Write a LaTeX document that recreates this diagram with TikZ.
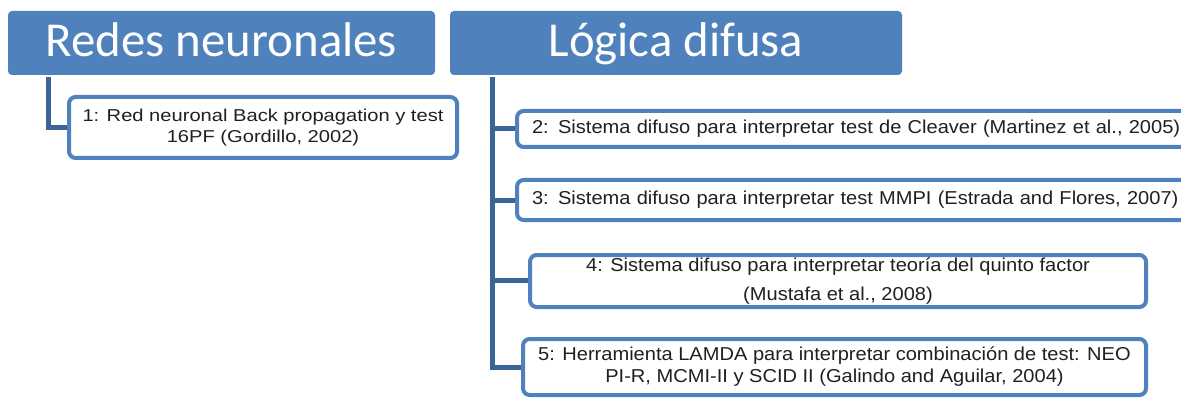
\documentclass[tikz,border=0pt]{standalone}
\usepackage{fontspec}
\setmainfont{Liberation Sans}
\newfontfamily\headfont{Carlito}
\newfontfamily\itemfont[FakeStretch=1.17]{Liberation Sans}
\newfontfamily\fuzzyfont[FakeStretch=1.075]{Liberation Sans}
\usetikzlibrary{positioning}
\definecolor{hdrblue}{RGB}{79,129,189}
\definecolor{linkblue}{RGB}{60,100,150}
\definecolor{txtgray}{RGB}{35,31,32}

\begin{document}
\begin{tikzpicture}[x=0.75pt, y=-0.75pt,
  header/.style={fill=hdrblue, rounded corners=3pt, text=white, inner sep=0pt,
    minimum height=48pt, text height=22pt, text depth=2pt,
    font=\headfont\fontsize{36.6}{40}\selectfont},
  itembox/.style={draw=hdrblue, line width=3pt, fill=white, rounded corners=5pt,
    inner sep=0pt, text=txtgray, align=center,
    font=\fuzzyfont\fontsize{14}{16.5}\selectfont},
  link/.style={draw=linkblue, line width=3.75pt}]
  \useasboundingbox (0,0) rectangle (1181,399);
  \clip (0,0) rectangle (1181,399);

  % Headers
  \node[header, minimum width=320.25pt] (redes) at (221.5,43) {Redes neuronales};
  \node[header, minimum width=339pt] (logica) at (676,43) {Lógica difusa};

  % Connectors
  \coordinate (redesroot) at ([xshift=30.75pt,yshift=-1.5pt]redes.south west);
  \coordinate (logicaroot) at ([xshift=32.25pt,yshift=-1.5pt]logica.south west);
  \path[link] (redesroot) |- (263,127.5);
  \path[link] (logicaroot) |- (515,129);
  \path[link] (logicaroot) |- (515,200);
  \path[link] (logicaroot) |- (530,280);
  \path[link] (logicaroot) |- (523,367);

  % Works
  \node[itembox, minimum width=291pt, minimum height=45.75pt,
    font=\itemfont\fontsize{12.9}{16.1}\selectfont] (one) at (263,127.5)
    {1: Red neuronal Back propagation y test\\16PF (Gordillo, 2002)};
  \node[itembox, anchor=west, text width=500pt, align=left, inner xsep=11.25pt,
    minimum height=27pt] (two) at (515,129)
    {2: Sistema difuso para interpretar test de Cleaver (Martinez et al., 2005)};
  \node[itembox, anchor=west, text width=500pt, align=left, inner xsep=11.25pt,
    minimum height=30pt] (three) at (515,200)
    {3: Sistema difuso para interpretar test MMPI (Estrada and Flores, 2007)};
  \node[itembox, minimum width=462pt, minimum height=39pt,
    font=\fuzzyfont\fontsize{14}{21.75}\selectfont] (four) at (838,281)
    {4: Sistema difuso para interpretar teoría del quinto factor\\(Mustafa et al., 2008)};
  \node[itembox, minimum width=467.25pt, minimum height=42pt] (five) at (834.5,367)
    {5: Herramienta LAMDA para interpretar combinación de test: NEO\\PI-R, MCMI-II y SCID II (Galindo and Aguilar, 2004)};
\end{tikzpicture}
\end{document}
